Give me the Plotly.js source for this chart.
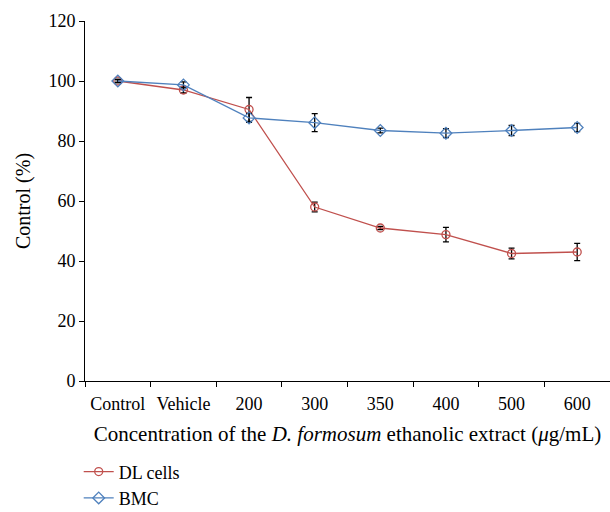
<!DOCTYPE html>
<html>
<head>
<meta charset="utf-8">
<script src="https://cdn.plot.ly/plotly-3.0.1.min.js"></script>
<style>html,body{margin:0;padding:0;background:#fff;}#chart{width:610px;height:512px;}</style>
</head>
<body>
<div id="chart"></div>
<script>
const categories = ["Control", "Vehicle", "200", "300", "350", "400", "500", "600"];
const dlValues = [100, 97, 90.5, 58, 51, 48.8, 42.5, 43];
const dlErrors = [0.5, 1, 4, 1.6, 0.5, 2.4, 1.8, 2.9];
const bmcValues = [100, 98.7, 87.7, 86.1, 83.5, 82.6, 83.5, 84.5];
const bmcErrors = [0.5, 1, 1.5, 3, 0.8, 1.5, 1.7, 1.4];

const FONT = "Liberation Serif, Times New Roman, serif";

const traces = [
  {
    x: categories, y: dlValues, name: "DL cells", type: "scatter", mode: "lines+markers",
    legendgroup: "a",
    line: {color: "#C0504D", width: 1.3},
    marker: {symbol: "circle-open", size: 8, color: "#C0504D", line: {width: 1.3, color: "#C0504D"}},
    error_y: {type: "data", array: dlErrors, visible: true, color: "#000", thickness: 1.3, width: 3}
  },
  {
    x: categories, y: bmcValues, name: "BMC", type: "scatter", mode: "lines+markers",
    legendgroup: "b",
    line: {color: "#4F81BD", width: 1.3},
    marker: {symbol: "diamond-open", size: 9, color: "#4F81BD", line: {width: 1.3, color: "#4F81BD"}},
    error_y: {type: "data", array: bmcErrors, visible: true, color: "#000", thickness: 1.3, width: 3}
  }
];

const layout = {
  width: 610, height: 512,
  margin: {l: 85, r: 0, t: 21, b: 131, autoexpand: false},
  paper_bgcolor: "#fff", plot_bgcolor: "#fff",
  font: {family: FONT, size: 18, color: "#000"},
  showlegend: true,
  legend: {x: -0.012, xanchor: "left", y: -0.201, yanchor: "top", orientation: "v",
           traceorder: "grouped", tracegroupgap: 0,
           font: {family: FONT, size: 18, color: "#000"}, bgcolor: "rgba(0,0,0,0)"},
  xaxis: {
    type: "category", range: [-0.5, 7.5], showline: true, linecolor: "#000", linewidth: 1,
    ticks: "outside", tickson: "boundaries", ticklen: 5, tickcolor: "#000",
    showgrid: false, zeroline: false, automargin: false, ticklabelstandoff: 6,
    tickfont: {family: FONT, size: 18, color: "#000"},
    title: {text: "Concentration of the <i>D. formosum</i> ethanolic extract (<i>μ</i>g/mL)",
            font: {family: FONT, size: 21, color: "#000"}, standoff: 13}
  },
  yaxis: {
    range: [0, 120], dtick: 20, showline: true, linecolor: "#000", linewidth: 1,
    ticks: "outside", ticklen: 5, tickcolor: "#000", showgrid: false, zeroline: false,
    automargin: false,
    tickfont: {family: FONT, size: 18, color: "#000"},
    title: {text: "Control (%)", font: {family: FONT, size: 20, color: "#000"}, standoff: 12}
  }
};

Plotly.newPlot("chart", traces, layout, {staticPlot: true, displayModeBar: false});
</script>
</body>
</html>
